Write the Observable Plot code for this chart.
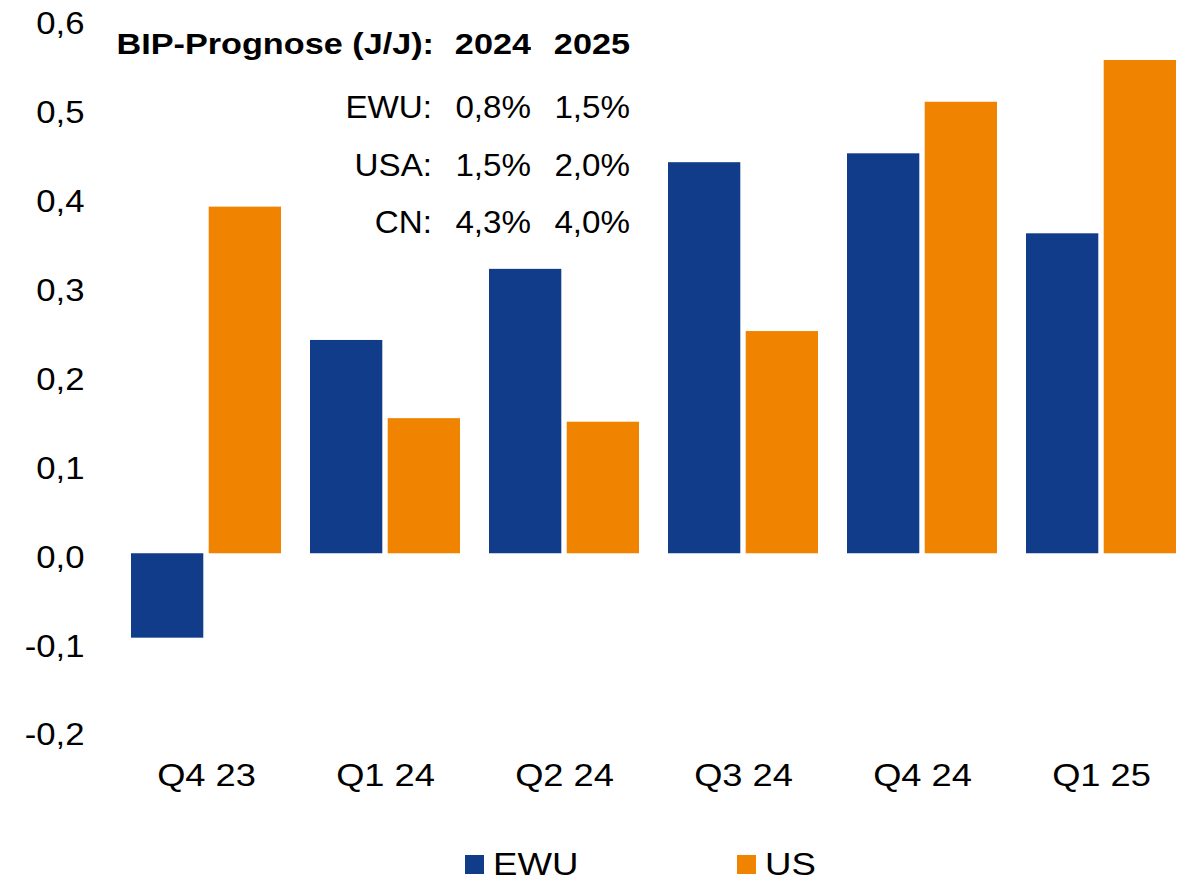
<!DOCTYPE html>
<html><head><meta charset="utf-8">
<script src="https://cdn.jsdelivr.net/npm/d3@7"></script>
<script src="https://cdn.jsdelivr.net/npm/@observablehq/plot@0.6"></script>
<style>
body{margin:0;background:#fff;font-family:"Liberation Sans",Arial,sans-serif;color:#000;}
#wrap{position:relative;width:1191px;height:880px;}
#chart{position:absolute;left:0;top:0;}
.cell{position:absolute;white-space:nowrap;text-align:right;transform-origin:right center;}
.leg{position:absolute;white-space:nowrap;width:240px;height:31px;}
.leg .sw{position:absolute;width:19px;height:19px;}
.leg .tx{position:absolute;display:inline-block;transform-origin:left center;}
</style></head><body>
<div id="wrap"><div id="chart"></div><div id="ann"></div><div id="legend"></div></div>
<script>
// ---- data ----
const quarters = ["Q4 23", "Q1 24", "Q2 24", "Q3 24", "Q4 24", "Q1 25"];
const ewuValues = [-0.095, 0.24, 0.32, 0.44, 0.45, 0.36];
const usValues = [0.39, 0.152, 0.148, 0.25, 0.508, 0.555];
const yTicks = [-0.2, -0.1, 0, 0.1, 0.2, 0.3, 0.4, 0.5, 0.6];
const seriesNames = ["EWU", "US"];
const seriesColors = ["#103c8a", "#f08300"];
const forecastHeader = ["BIP-Prognose (J/J):", "2024", "2025"];
const forecastRows = [
  ["EWU:", "0,8%", "1,5%"],
  ["USA:", "1,5%", "2,0%"],
  ["CN:", "4,3%", "4,0%"]
];

// ---- chart ----
const ewuRows = quarters.map((q, i) => ({quarter: q, value: ewuValues[i]}));
const usRows = quarters.map((q, i) => ({quarter: q, value: usValues[i]}));
const fmt = d => d.toFixed(1).replace(".", ",");

const chart = Plot.plot({
  width: 1191, height: 810,
  marginLeft: 117, marginRight: 0, marginTop: 20, marginBottom: 79,
  style: {fontFamily: "'Liberation Sans', Arial, sans-serif", fontSize: "31px", color: "#000", background: "#fff"},
  x: {domain: quarters, paddingInner: 0.16, paddingOuter: 0.08},
  y: {domain: [-0.2, 0.6]},
  marks: [
    Plot.barY(ewuRows, {x: "quarter", y: "value", fill: seriesColors[0], insetLeft: 0, insetRight: 77.7}),
    Plot.barY(usRows, {x: "quarter", y: "value", fill: seriesColors[1], insetLeft: 77.7, insetRight: 0}),
    Plot.axisY(yTicks, {tickSize: 0, tickPadding: 33, tickFormat: fmt, label: null, dy: 4, fill: "#000"}),
    Plot.axisX({tickSize: 0, tickPadding: 32, label: null, fill: "#000"})
  ]
});

function stretch(sel, s) {
  chart.querySelectorAll(sel).forEach(t => {
    const ax = +t.getAttribute("x") || 0, ay = +t.getAttribute("y") || 0;
    const tr = t.getAttribute("transform") || "";
    t.setAttribute("transform", `${tr} translate(${ax},${ay}) scale(${s},1) translate(${-ax},${-ay})`);
  });
}
stretch('g[aria-label="y-axis tick label"] text', 1.12);
stretch('g[aria-label="x-axis tick label"] text', 1.17);
document.getElementById("chart").appendChild(chart);

// ---- forecast annotation ----
const ann = document.getElementById("ann");
function cell(text, right, baseline, size, bold, sx) {
  const d = document.createElement("div");
  d.className = "cell";
  d.textContent = text;
  d.style.fontSize = size + "px";
  d.style.lineHeight = size + "px";
  d.style.fontWeight = bold ? "bold" : "normal";
  d.style.width = "700px";
  d.style.left = (right - 700) + "px";
  d.style.top = (baseline - 0.8465 * size) + "px";
  d.style.transform = `scaleX(${sx})`;
  ann.appendChild(d);
}
const colRight = [434, 531, 630];
forecastHeader.forEach((t, j) => cell(t, colRight[j], 55, 29, true, 1.18));
const rowBase = [118, 176, 233];
forecastRows.forEach((r, i) => r.forEach((t, j) => cell(t, colRight[j] - (j === 0 ? 2 : 0), rowBase[i], 31, false, 1.07)));

// ---- legend ----
const legend = document.getElementById("legend");
const legLeft = [465, 737];
const legTop = 875 - 0.8465 * 31;
seriesNames.forEach((name, i) => {
  const it = document.createElement("div");
  it.className = "leg";
  it.style.left = legLeft[i] + "px";
  it.style.top = legTop + "px";
  it.style.fontSize = "31px";
  it.style.lineHeight = "31px";
  const sw = document.createElement("span");
  sw.className = "sw";
  sw.style.background = seriesColors[i];
  sw.style.left = "0px";
  sw.style.top = (855 - legTop) + "px";
  const tx = document.createElement("span");
  tx.className = "tx";
  tx.textContent = name;
  tx.style.left = "27.5px";
  tx.style.top = "0px";
  tx.style.transform = "scaleX(1.18)";
  it.appendChild(sw); it.appendChild(tx);
  legend.appendChild(it);
});
</script>
</body></html>
